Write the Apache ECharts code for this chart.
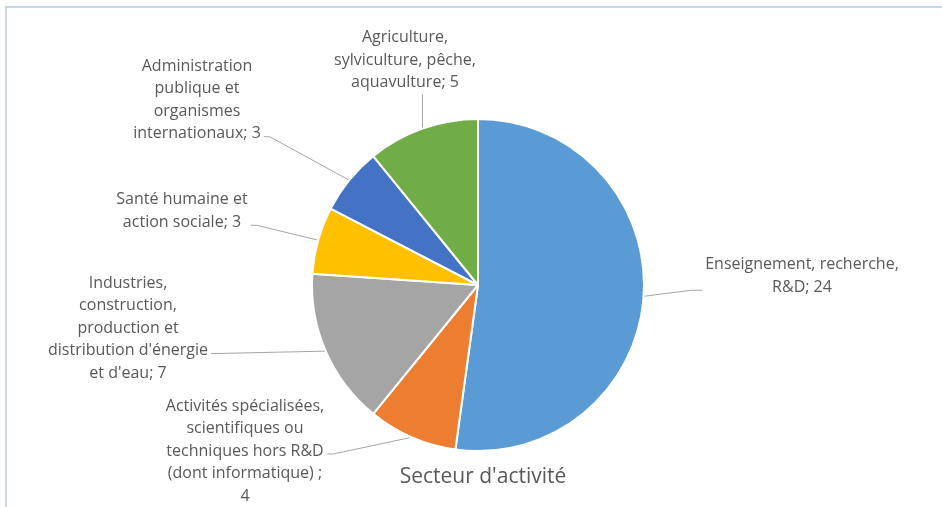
<!DOCTYPE html>
<html>
<head>
<meta charset="utf-8">
<script src="https://cdn.jsdelivr.net/npm/echarts@6/dist/echarts.min.js"></script>
<style>
  html, body { margin: 0; padding: 0; background: #ffffff; }
  #chart { width: 942px; height: 507px; }
</style>
</head>
<body>
<div id="chart"></div>
<script>
// ---- Data ----
const categories = [
  "Enseignement, recherche, R&D",
  "Activités spécialisées, scientifiques ou techniques hors R&D (dont informatique)",
  "Industries, construction, production et distribution d'énergie et d'eau",
  "Santé humaine et action sociale",
  "Administration publique et organismes internationaux",
  "Agriculture, sylviculture, pêche, aquavulture"
];
const values = [24, 4, 7, 3, 3, 5];
const title = "Secteur d'activité";

// Wrapped label text (as shown in the picture)
const wrappedNames = [
  "Enseignement, recherche,\nR&D",
  "Activités spécialisées,\nscientifiques ou\ntechniques hors R&D\n(dont informatique)",
  "Industries,\nconstruction,\nproduction et\ndistribution d'énergie\net d'eau",
  "Santé humaine et\naction sociale",
  "Administration\npublique et\norganismes\ninternationaux",
  "Agriculture,\nsylviculture, pêche,\naquavulture"
];
const separators = ["; ", " ;\n", "; ", "; ", "; ", "; "];

// ---- Layout (label block centres and leader attachment) ----
const labelPos = [[802, 276], [245, 451], [128, 328], [182, 211], [197, 100], [405, 60]];
// side to which the leader attaches, and which text line
const attach = [["left", 1], ["right", 2], ["right", 3], ["right", 1], ["right", 3], ["bottom", 0]];
const colors = ["#5B9BD5", "#ED7D31", "#A5A5A5", "#FFC000", "#4472C4", "#70AD47"];
const LINE_H = 22.5;

const chart = echarts.init(document.getElementById('chart'), null, { renderer: 'canvas' });

chart.setOption({
  backgroundColor: '#ffffff',
  animation: false,
  color: colors,
  title: {
    text: title,
    left: 478,
    top: 462,
    textAlign: 'center',
    textStyle: { fontFamily: 'Open Sans', fontSize: 21, fontWeight: 'normal', color: '#595959' }
  },
  graphic: [{
    type: 'rect',
    shape: { x: 6, y: 7, width: 1000, height: 600 },
    style: { fill: 'none', stroke: '#C6D9EF', lineWidth: 2 },
    silent: true
  }],
  series: [{
    type: 'pie',
    center: [478, 285],
    radius: [0, 166],
    startAngle: 90,
    clockwise: true,
    avoidLabelOverlap: false,
    itemStyle: { borderColor: '#ffffff', borderWidth: 2 },
    label: {
      show: true,
      position: 'outer',
      alignTo: 'none',
      fontFamily: 'Open Sans',
      fontSize: 16,
      lineHeight: LINE_H,
      color: '#595959',
      formatter: function (p) {
        return wrappedNames[p.dataIndex] + separators[p.dataIndex] + p.value;
      }
    },
    labelLine: {
      show: true,
      length: 10,
      length2: 10,
      lineStyle: { color: '#A6A6A6', width: 1 }
    },
    labelLayout: function (p) {
      const i = p.dataIndex;
      const pos = labelPos[i];
      const w = p.labelRect.width, h = p.labelRect.height;
      const left = pos[0] - w / 2, top = pos[1] - h / 2;
      const anchor = p.labelLinePoints ? p.labelLinePoints[0] : null;
      const res = { x: pos[0], y: pos[1], align: 'center', verticalAlign: 'middle' };
      if (anchor) {
        const side = attach[i][0];
        const ly = top + (attach[i][1] + 0.5) * LINE_H + 3;
        let pts;
        if (side === 'right') {
          const ax = left + w + 3;
          pts = [anchor.slice(), [ax + 6, ly], [ax, ly]];
        } else if (side === 'left') {
          const ax = left - 3;
          pts = [anchor.slice(), [ax - 11, ly], [ax, ly]];
        } else {
          const by = top + h;
          pts = [anchor.slice(), [anchor[0], by + 1], [anchor[0], by]];
        }
        res.labelLinePoints = pts;
      }
      return res;
    },
    data: categories.map(function (c, i) { return { name: c, value: values[i] }; })
  }]
});
</script>
</body>
</html>
